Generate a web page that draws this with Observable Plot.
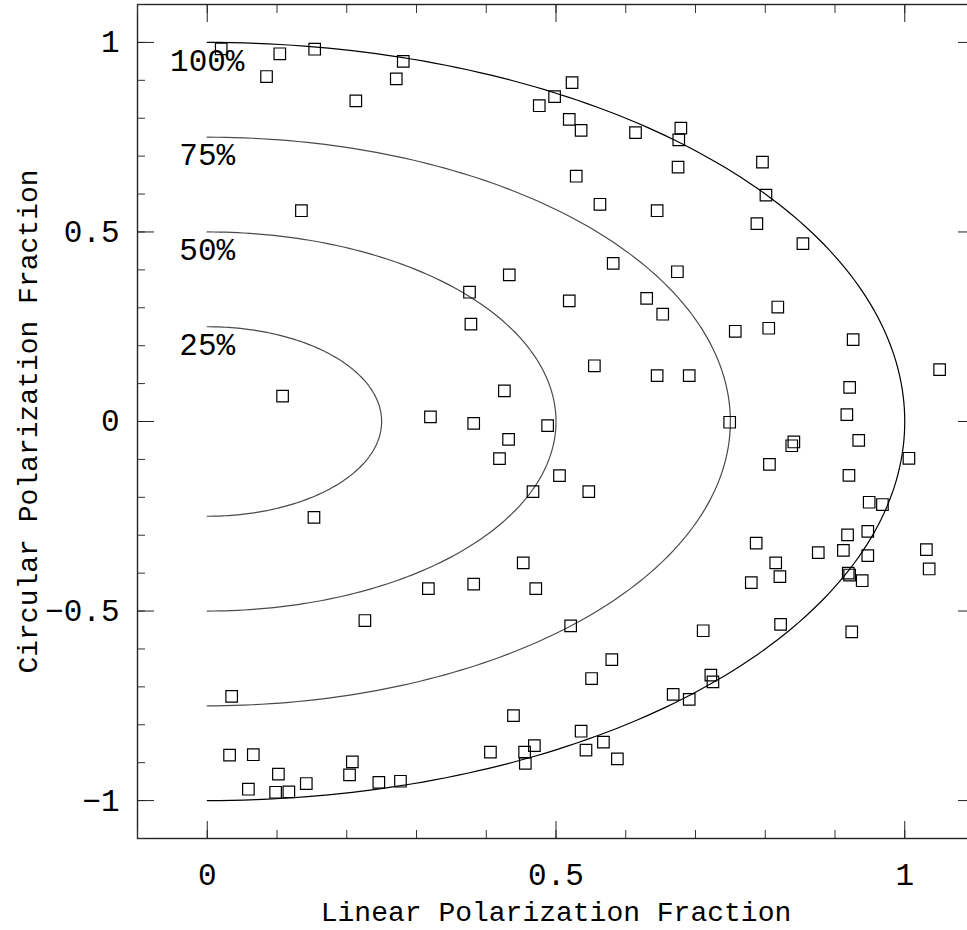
<!DOCTYPE html>
<html><head><meta charset="utf-8">
<script src="https://cdn.jsdelivr.net/npm/d3@7"></script>
<script src="https://cdn.jsdelivr.net/npm/@observablehq/plot@0.6"></script>
<style>body{margin:0;background:#fff}</style>
</head><body><div id="chart"></div>
<script>
const linearFrac = [
  0.020, 0.104, 0.085, 0.154, 0.281, 0.271, 0.213, 0.135, 0.523, 0.498,
  0.476, 0.519, 0.536, 0.614, 0.679, 0.676, 0.675, 0.529, 0.563, 0.645,
  0.582, 0.674, 0.433, 0.796, 0.801, 0.788, 0.854, 0.108, 0.153, 0.376,
  0.519, 0.630, 0.653, 0.378, 0.555, 0.645, 0.426, 0.320, 0.382, 0.488,
  0.432, 0.419, 0.505, 0.467, 0.547, 0.453, 0.818, 0.757, 0.805, 0.926,
  1.050, 0.691, 0.921, 0.917, 0.749, 0.841, 0.838, 0.934, 1.006, 0.806,
  0.920, 0.949, 0.968, 0.918, 0.947, 0.787, 0.876, 0.912, 0.947, 1.031,
  0.815, 1.035, 0.919, 0.921, 0.939, 0.780, 0.821, 0.711, 0.822, 0.924,
  0.722, 0.725, 0.691, 0.317, 0.382, 0.471, 0.521, 0.580, 0.551, 0.668,
  0.439, 0.536, 0.568, 0.406, 0.469, 0.455, 0.456, 0.543, 0.588, 0.226,
  0.035, 0.032, 0.066, 0.102, 0.059, 0.098, 0.117, 0.142, 0.208, 0.204,
  0.246, 0.277
];
const circularFrac = [
  0.983, 0.970, 0.910, 0.982, 0.950, 0.904, 0.846, 0.556, 0.894, 0.857,
  0.833, 0.797, 0.768, 0.762, 0.774, 0.743, 0.671, 0.647, 0.573, 0.556,
  0.417, 0.395, 0.387, 0.684, 0.597, 0.522, 0.469, 0.067, -0.253, 0.341,
  0.318, 0.325, 0.283, 0.257, 0.147, 0.121, 0.081, 0.012, -0.005, -0.011,
  -0.047, -0.098, -0.143, -0.185, -0.185, -0.373, 0.302, 0.238, 0.246, 0.216,
  0.137, 0.121, 0.090, 0.018, -0.002, -0.054, -0.064, -0.050, -0.097, -0.113,
  -0.142, -0.213, -0.219, -0.299, -0.290, -0.321, -0.346, -0.340, -0.354, -0.338,
  -0.373, -0.389, -0.400, -0.405, -0.420, -0.425, -0.409, -0.552, -0.535, -0.555,
  -0.669, -0.687, -0.733, -0.441, -0.429, -0.441, -0.539, -0.628, -0.678, -0.720,
  -0.776, -0.817, -0.846, -0.872, -0.855, -0.872, -0.902, -0.867, -0.890, -0.525,
  -0.725, -0.880, -0.879, -0.930, -0.970, -0.978, -0.977, -0.955, -0.898, -0.932,
  -0.952, -0.949
];
const ringLevels = [0.25, 0.5, 0.75, 1];
const ringLabels = ["25%", "50%", "75%", "100%"];
const xMajorTicks = [0, 0.5, 1];
const xMinorTicks = [-0.1, 0, 0.1, 0.2, 0.3, 0.4, 0.5, 0.6, 0.7, 0.8, 0.9, 1, 1.1];
const yMajorTicks = [-1, -0.5, 0, 0.5, 1];
const yMinorTicks = [-1.1, -1, -0.9, -0.8, -0.7, -0.6, -0.5, -0.4, -0.3, -0.2, -0.1, 0,
  0.1, 0.2, 0.3, 0.4, 0.5, 0.6, 0.7, 0.8, 0.9, 1, 1.1];
const xTitle = "Linear Polarization Fraction";
const yTitle = "Circular Polarization Fraction";

const points = linearFrac.map((x, i) => ({x, y: circularFrac[i]}));
const ringPts = ringLevels.flatMap(r => d3.range(0, 181).map(k => {
  const t = (k - 90) * Math.PI / 180;
  return {r, x: r * Math.cos(t), y: r * Math.sin(t)};
}));
const ringText = ringLevels.map((r, i) => ({r, label: ringLabels[i]}));

const MAJ = 17, MIN = 8;
const tickOnly = () => "";
const fmt = d3.format("~g");

const chart = Plot.plot({
  width: 967,
  height: 930,
  marginLeft: 137,
  marginRight: -7,
  marginTop: 4,
  marginBottom: 92,
  x: {domain: [-0.1, 1.1]},
  y: {domain: [-1.1, 1.1]},
  style: {fontFamily: "'Liberation Mono', monospace", background: "#fff", color: "#000"},
  marks: [
    Plot.line(ringPts, {x: "x", y: "y", z: "r", stroke: d => d.r === 1 ? "#000" : "#4a4a4a", strokeWidth: 1.2}),
    Plot.text(ringText, {x: 0, y: d => d.r - 0.048, text: "label", fontSize: 31, textAnchor: "middle", fontWeight: 300}),
    Plot.dot(points, {x: "x", y: "y", symbol: "square", r: 6.5, stroke: "#000", strokeWidth: 1.2, fill: "none"}),
    Plot.frame({stroke: "#222", strokeWidth: 1.4}),
    // inward ticks, all four sides
    Plot.axisX({ticks: xMinorTicks, anchor: "bottom", tickSize: MIN, dy: -MIN, tickFormat: tickOnly, label: null, stroke: "#333"}),
    Plot.axisX({ticks: xMajorTicks, anchor: "bottom", tickSize: MAJ, dy: -MAJ, tickFormat: tickOnly, label: null, stroke: "#222"}),
    Plot.axisX({ticks: xMinorTicks, anchor: "top", tickSize: MIN, dy: MIN, tickFormat: tickOnly, label: null, stroke: "#333"}),
    Plot.axisX({ticks: xMajorTicks, anchor: "top", tickSize: MAJ, dy: MAJ, tickFormat: tickOnly, label: null, stroke: "#222"}),
    Plot.axisY({ticks: yMinorTicks, anchor: "left", tickSize: MIN, dx: MIN, tickFormat: tickOnly, label: null, stroke: "#333"}),
    Plot.axisY({ticks: yMajorTicks, anchor: "left", tickSize: MAJ, dx: MAJ, tickFormat: tickOnly, label: null, stroke: "#222"}),
    Plot.axisY({ticks: yMinorTicks, anchor: "right", tickSize: MIN, dx: -MIN, tickFormat: tickOnly, label: null, stroke: "#333"}),
    Plot.axisY({ticks: yMajorTicks, anchor: "right", tickSize: MAJ, dx: -MAJ, tickFormat: tickOnly, label: null, stroke: "#222"}),
    // tick labels
    Plot.axisX({ticks: xMajorTicks, anchor: "bottom", tickSize: 0, tickPadding: 24, tickFormat: fmt, label: null, fontSize: 31}),
    Plot.axisY({ticks: yMajorTicks, anchor: "left", tickSize: 0, tickPadding: 18, tickFormat: fmt, label: null, fontSize: 31}),
    // axis titles
    Plot.text([xTitle], {frameAnchor: "bottom", dy: 74, text: d => d, fontSize: 28, lineAnchor: "middle", textAnchor: "middle"}),
    Plot.text([yTitle], {frameAnchor: "left", dx: -109, rotate: -90, text: d => d, fontSize: 28, lineAnchor: "middle", textAnchor: "middle"})
  ]
});
document.getElementById("chart").appendChild(chart);
</script>
</body></html>
